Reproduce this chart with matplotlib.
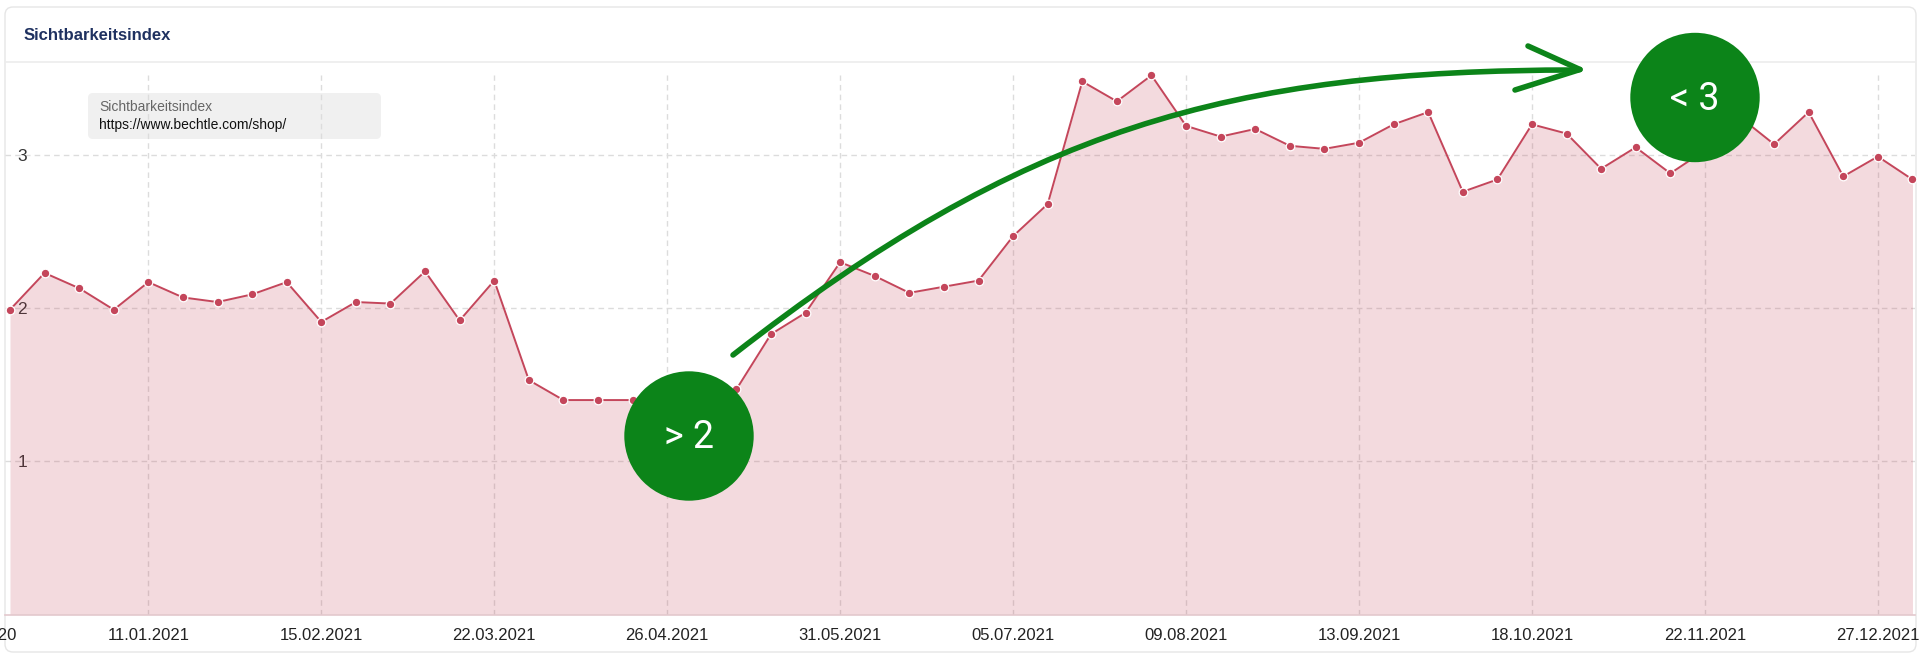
import matplotlib
matplotlib.use("Agg")
import matplotlib.pyplot as plt
import matplotlib.transforms as mtransforms
from matplotlib.patches import Circle, FancyBboxPatch, PathPatch
from matplotlib.path import Path
import pandas as pd

W, H = 1920, 662

START_DATE = "2020-12-14"
VALUES = [
    1.99, 2.23, 2.13, 1.99, 2.17, 2.07, 2.04, 2.09, 2.17, 1.91,
    2.04, 2.03, 2.24, 1.92, 2.18, 1.53, 1.40, 1.40, 1.40, 1.41,
    1.42, 1.47, 1.83, 1.97, 2.30, 2.21, 2.10, 2.14, 2.18, 2.47,
    2.68, 3.48, 3.35, 3.52, 3.19, 3.12, 3.17, 3.06, 3.04, 3.08,
    3.20, 3.28, 2.76, 2.84, 3.20, 3.14, 2.91, 3.05, 2.88, 3.03,
    3.25, 3.07, 3.28, 2.86, 2.99, 2.84,
]
TICK_LABELS = [
    "11.01.2021", "15.02.2021", "22.03.2021", "26.04.2021", "31.05.2021",
    "05.07.2021", "09.08.2021", "13.09.2021", "18.10.2021", "22.11.2021",
    "27.12.2021",
]
CUT_LABEL = "07.12.2020"
Y_TICKS = [1, 2, 3]
TITLE = "Sichtbarkeitsindex"
LEGEND_NAME = "Sichtbarkeitsindex"
LEGEND_URL = "https://www.bechtle.com/shop/"
BADGES = ["> 2", "< 3"]

LINE = "#c4465b"
GREEN = "#0c8419"
GRID = "#dcdcdc"

plt.rcParams["font.family"] = ["Liberation Sans", "DejaVu Sans"]

dates = pd.date_range(START_DATE, periods=len(VALUES), freq="7D")
df = pd.DataFrame({"date": dates, "value": VALUES})
df["label"] = df["date"].dt.strftime("%d.%m.%Y")

fig = plt.figure(figsize=(W / 100, H / 100), dpi=100)
fig.patch.set_facecolor("white")
# pixel coordinates, origin top-left
px = mtransforms.Affine2D().scale(1 / W, -1 / H).translate(0, 1) + fig.transFigure

# card + header
card = FancyBboxPatch((5, 7), 1911, 645, boxstyle="round,pad=0,rounding_size=8",
                      transform=px, facecolor="white", edgecolor="#e6e6e6", lw=1, zorder=-2)
fig.patches.append(card)
fig.lines.append(plt.Line2D([6, 1915], [62, 62], transform=px, color="#ececec", lw=1.2,
                            zorder=-1))
fig.text(24, 35, TITLE, transform=px, fontsize=12, fontweight="bold",
         color="#1f3160", va="center", ha="left")

# legend box (under the grid)
leg = FancyBboxPatch((88, 93), 293, 46, boxstyle="round,pad=0,rounding_size=5",
                     transform=px, facecolor="#f0f0f0", edgecolor="none", zorder=-1)
fig.patches.append(leg)

left, right, top, bottom = 5, 1915, 75, 614.5
ax = fig.add_axes([left / W, 1 - bottom / H, (right - left) / W, (bottom - top) / H])
ax.patch.set_alpha(0)

day = pd.Timedelta(days=7)
x0 = dates[0] - day * (5 / 34.59)
x1 = dates[0] + day * (1905 / 34.59)
ax.set_xlim(x0, x1)
ax.set_ylim(0, (bottom - top) / 153.17)

ax.fill_between(df["date"], df["value"], 0, color=LINE, alpha=0.2, lw=0, zorder=1)
ax.plot(df["date"], df["value"], color=LINE, lw=1.4, marker="o", ms=6.2,
        mfc=LINE, mec="white", mew=0.9, zorder=3, clip_on=False)

is_tick = df["label"].isin(TICK_LABELS)
ax.set_xticks(df.loc[is_tick, "date"])
ax.set_xticklabels(df.loc[is_tick, "label"])
ax.set_yticks(Y_TICKS)
ax.set_yticklabels([str(v) for v in Y_TICKS])
ax.tick_params(axis="x", length=0, pad=10, labelsize=12, labelcolor="#222222")
ax.tick_params(axis="y", length=0, pad=-16, labelsize=12.5, labelcolor="#333333")

ax.grid(True, color=GRID, lw=1, linestyle=(0, (4, 3)), zorder=0.5)
ax.set_axisbelow(True)
for side in ["left", "right", "top"]:
    ax.spines[side].set_visible(False)
ax.spines["bottom"].set_color("#e3c8cd")
ax.spines["bottom"].set_linewidth(1.2)

# label of the week before the view, cut by the canvas edge
ax.text(dates[0] - day, -(10 * 100 / 72) / (bottom - top), CUT_LABEL,
        transform=ax.get_xaxis_transform(), ha="center", va="top",
        fontsize=12, color="#222222", clip_on=False)

fig.text(99, 107, LEGEND_NAME, transform=px, fontsize=10, color="#666666", va="center",
         zorder=5)
fig.text(99, 125, LEGEND_URL, transform=px, fontsize=10, color="#111111", va="center",
         zorder=5)

# green arrow
verts = [(733, 355), (1023, 129), (1228, 70), (1578, 70)]
arc = PathPatch(Path(verts, [Path.MOVETO, Path.CURVE4, Path.CURVE4, Path.CURVE4]),
                transform=px, facecolor="none", edgecolor=GREEN, lw=4,
                capstyle="round", zorder=6)
fig.patches.append(arc)
for bx, by in [(1528, 46), (1515, 90)]:
    fig.lines.append(plt.Line2D([bx, 1580], [by, 69.5], transform=px, color=GREEN,
                                lw=4, solid_capstyle="round", zorder=6))

# badges
for (cx, cy), text in zip([(689, 436), (1695, 97.5)], BADGES):
    fig.patches.append(Circle((cx, cy), 64.7, transform=px, facecolor=GREEN,
                              edgecolor="none", zorder=7))
    fig.text(cx, cy + 2, text, transform=px, fontsize=27, color="white",
             family="Roboto", ha="center", va="center", zorder=8)

fig.savefig("out.png", dpi=100)
